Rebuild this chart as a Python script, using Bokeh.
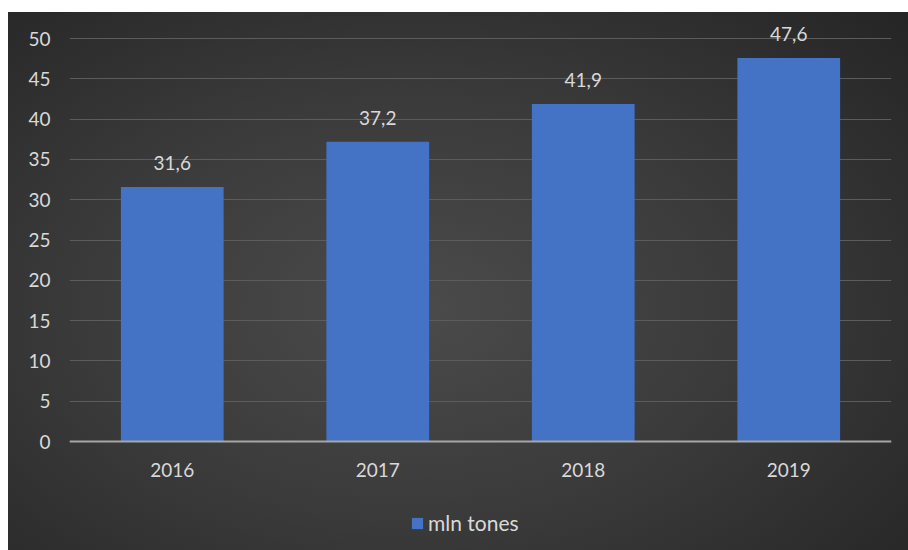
from bokeh.plotting import figure
from bokeh.models import ColumnDataSource, Legend, LegendItem, FixedTicker
from bokeh.core.properties import value
from bokeh.embed import file_html
from bokeh.resources import INLINE

years = ["2016", "2017", "2018", "2019"]
values = [31.6, 37.2, 41.9, 47.6]
value_labels = ["31,6", "37,2", "41,9", "47,6"]
y_ticks = [0, 5, 10, 15, 20, 25, 30, 35, 40, 45, 50]
series_name = "mln tones"

FONT = "Lato"
TXT = "#d9d9d9"

src = ColumnDataSource(dict(x=years, top=values, lab=value_labels))

p = figure(x_range=years, y_range=(-13.52, 52), frame_width=822, frame_height=528,
           output_backend="svg", toolbar_location=None,
           min_border_left=61, min_border_right=17, min_border_top=10,
           min_border_bottom=0, margin=(12, 0, 0, 8),
           styles={"background-image": "radial-gradient(ellipse 75% 80% at 45% 55%, #4b4b4b 0%, #3a3a3a 50%, #252525 100%)"})
p.border_fill_color = None
p.background_fill_color = None
p.outline_line_color = None

r = p.vbar(x="x", top="top", bottom=0, width=0.5, source=src,
           fill_color="#4472c4", line_color=None)
p.text(x="x", y="top", text="lab", source=src, text_align="center",
       text_baseline="middle", y_offset=-24, text_color=TXT,
       text_font=value(FONT), text_font_size="19px")

p.yaxis.ticker = FixedTicker(ticks=y_ticks)
p.yaxis.axis_line_color = None
p.yaxis.major_tick_line_color = None
p.yaxis.minor_tick_line_color = None
p.yaxis.major_label_standoff = 13
p.xaxis.fixed_location = 0
p.xaxis.axis_line_color = "#a6a6a6"
p.xaxis.axis_line_width = 2
p.xaxis.major_tick_line_color = None
p.xaxis.major_label_standoff = 15
for ax in (p.xaxis, p.yaxis):
    ax.major_label_text_color = TXT
    ax.major_label_text_font = FONT
    ax.major_label_text_font_size = "19px"

p.xgrid.grid_line_color = None
p.ygrid.grid_line_color = "#5c5c5c"
p.ygrid.grid_line_width = 1

legend = Legend(items=[LegendItem(label=series_name, renderers=[r])],
                location=(341, 15), orientation="horizontal",
                background_fill_alpha=0, border_line_color=None,
                label_text_color=TXT, label_text_font=FONT,
                label_text_font_size="21px", glyph_width=14, glyph_height=14,
                label_standoff=4, margin=0, padding=4)
p.add_layout(legend, "center")

open("out.html", "w").write(file_html(p, INLINE))
